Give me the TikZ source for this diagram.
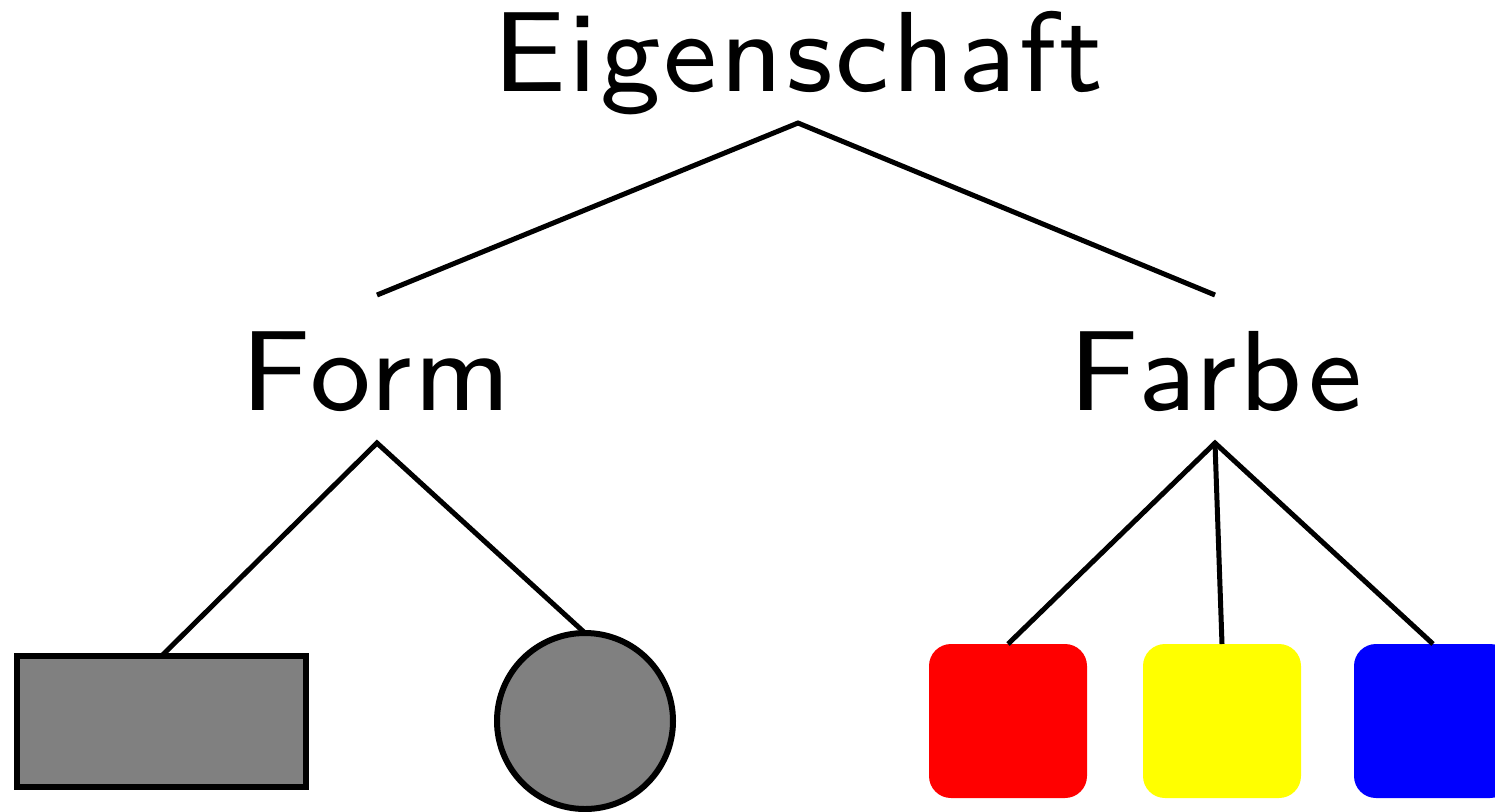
\documentclass[tikz,border=0pt]{standalone}
\usepackage{fontspec}
\newfontfamily\lblfont[LetterSpace=2.6]{lmsans8-regular.otf}
\begin{document}
\begin{tikzpicture}[x=0.5pt,y=-0.5pt,
  lbl/.style={anchor=base,inner sep=0pt,font=\lblfont\fontsize{57pt}{64pt}\selectfont},
  conn/.style={line width=2.5pt},
  grayshape/.style={draw=black,line width=3pt,fill=black!50,inner sep=0pt,outer sep=0pt},
  colbox/.style={inner sep=0pt,outer sep=0pt,minimum width=79pt,minimum height=77pt,rounded corners=11pt}]
\useasboundingbox (0,0) rectangle (1495,811);
\begin{scope}
\clip (0,0) rectangle (1495,811);
\node[lbl] (eig) at (798,91) {Eigenschaft};
\node[lbl] (form) at (376,410) {Form};
\node[lbl] (farbe) at (1216,410) {Farbe};
\coordinate (eigB) at (798,123);
\coordinate (formT) at (377,295);
\coordinate (farbeT) at (1215,295);
\coordinate (formB) at (377,443);
\coordinate (farbeB) at (1215,443);
\node[grayshape,rectangle,minimum width=144.5pt,minimum height=65.5pt] (rect) at (161.5,721.5) {};
\node[grayshape,circle,minimum size=88pt] (circ) at (585,721) {};
\node[colbox,fill={rgb,255:red,255;green,0;blue,0}] (red) at (1008,721) {};
\node[colbox,fill={rgb,255:red,255;green,255;blue,0}] (yellow) at (1222,721) {};
\node[colbox,fill={rgb,255:red,0;green,0;blue,255}] (blue) at (1433,721) {};
\draw[conn] (formT) -- (eigB) -- (farbeT);
\draw[conn] (rect.north) -- (formB) -- (circ.north);
\draw[conn] (red.north) -- (farbeB) -- (blue.north);
\draw[conn] (farbeB) -- (yellow.north);
\end{scope}
\end{tikzpicture}
\end{document}
